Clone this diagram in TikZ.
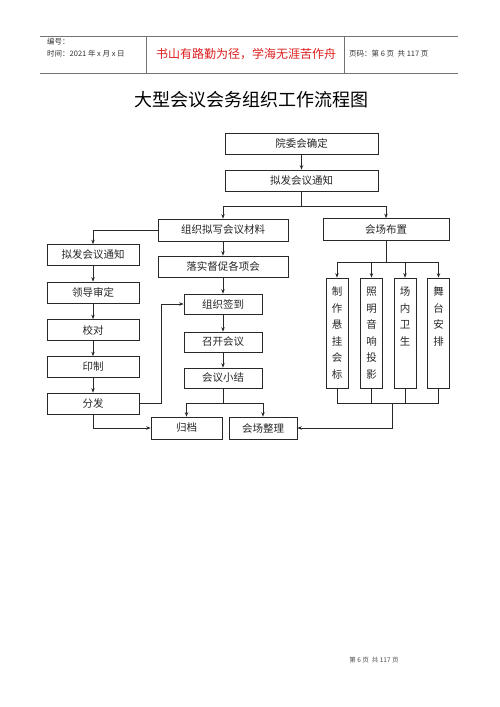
\documentclass[tikz,border=0pt]{standalone}
\usepackage{fontspec}
\setmainfont{Liberation Serif}
\newfontfamily\cjk{Noto Sans CJK SC}
\usetikzlibrary{arrows.meta}
\definecolor{lc}{RGB}{40,40,40}
\definecolor{redtxt}{RGB}{220,30,30}
\tikzset{
  box/.style={draw=lc, line width=0.7pt, rectangle, inner sep=0pt, font=\cjk\fontsize{10.5}{12}\selectfont, text=black!85},
  vbox/.style={box, minimum width=22pt, minimum height=110pt, align=center, font=\cjk\fontsize{10.5}{16.5}\selectfont},
  conn/.style={draw=lc, line width=0.7pt},
  arr/.style={conn, -{Stealth[length=4.5pt,width=3.5pt]}},
  hdr/.style={font=\cjk\fontsize{7.5}{9}\selectfont, inner sep=0pt, anchor=west, text=black!80}
}
\begin{document}
\begin{tikzpicture}[x=1pt,y=-1pt]
\useasboundingbox (0,0) rectangle (500,707);
% header
\draw[line width=0.6pt, draw=black!55] (40,36) -- (458,36);
\draw[line width=0.6pt, draw=black!55] (40,73) -- (458,73);
\draw[line width=0.6pt, draw=black!55] (146,36) -- (146,73);
\draw[line width=0.6pt, draw=black!55] (344,36) -- (344,73);
\node[hdr] (h1) at (47,42) {编号：};
\node[hdr] (h2) at (47,54) {时间：2021 年 x 月 x 日};
\node[font=\cjk\fontsize{12}{14}\selectfont, text=redtxt, inner sep=0pt] (h3) at (246,54) {书山有路勤为径，学海无涯苦作舟};
\node[hdr] (h4) at (349,54) {页码：第 6 页 \ 共 117 页};
% title
\node[font=\cjk\fontsize{18}{20}\selectfont, inner sep=0pt] (title) at (251,100) {大型会议会务组织工作流程图};
% main boxes
\node[box, minimum width=153pt, minimum height=21pt] (yw) at (301.5,143.5) {院委会确定};
\node[box, minimum width=153pt, minimum height=21pt] (nf1) at (301.5,180.5) {拟发会议通知};
\node[box, minimum width=130pt, minimum height=22pt] (zz) at (223,230) {组织拟写会议材料};
\node[box, minimum width=126pt, minimum height=22pt] (hc) at (386,229.5) {会场布置};
% left column
\node[box, minimum width=92pt, minimum height=21pt] (nf2) at (93,255) {拟发会议通知};
\node[box, minimum width=92pt, minimum height=21pt] (ld) at (93,292.5) {领导审定};
\node[box, minimum width=92pt, minimum height=21pt] (jd) at (93,330) {校对};
\node[box, minimum width=92pt, minimum height=21pt] (yz) at (93,367) {印制};
\node[box, minimum width=92pt, minimum height=21pt] (ff) at (93,403.5) {分发};
% middle column
\node[box, minimum width=130pt, minimum height=21pt] (ls) at (223,266.5) {落实督促各项会};
\node[box, minimum width=78pt, minimum height=20pt] (qd) at (223,304) {组织签到};
\node[box, minimum width=78pt, minimum height=20pt] (zk) at (223,342) {召开会议};
\node[box, minimum width=78pt, minimum height=20pt] (xj) at (223,378) {会议小结};
\node[box, minimum width=71pt, minimum height=22pt] (gd) at (186.5,428) {归档};
\node[box, minimum width=68pt, minimum height=22pt] (zl) at (263,428) {会场整理};
% right vertical boxes
\node[vbox] (v1) at (337,333) {制\\作\\悬\\挂\\会\\标};
\node[vbox] (v2) at (371.5,333) {照\\明\\音\\响\\投\\影};
\node[vbox] (v3) at (405,333) {场\\内\\卫\\生\\\phantom{字}\\\phantom{字}};
\node[vbox] (v4) at (438.5,333) {舞\\台\\安\\排\\\phantom{字}\\\phantom{字}};
% coordinates
\coordinate (j1) at (301.5,206);
\coordinate (j2) at (223,403);
\coordinate (j3) at (386,262);
\coordinate (j5) at (337,403);
\coordinate (j6) at (438.5,403);
\coordinate (j4) at (392,403);
% connectors
\draw[arr] (yw.south) -- (nf1.north);
\draw[conn] (nf1.south) -- (j1);
\draw[arr] (j1) -| (zz.north);
\draw[arr] (j1) -| (hc.north);
\draw[arr] (zz.west) -| (nf2.north);
\draw[arr] (nf2.south) -- (ld.north);
\draw[arr] (ld.south) -- (jd.north);
\draw[arr] (jd.south) -- (yz.north);
\draw[arr] (yz.south) -- (ff.north);
\draw[arr] (zz.south) -- (ls.north);
\draw[arr] (ls.south) -- (qd.north);
\draw[arr] (qd.south) -- (zk.north);
\draw[arr] (zk.south) -- (xj.north);
\draw[conn] (xj.south) -- (j2);
\draw[arr] (j2) -| (gd.north);
\draw[arr] (j2) -| (zl.north);
\draw[arr] (ff.east) -- ++(22,0) |- (qd.west);
\draw[arr] (ff.south) |- (gd.west);
\draw[conn] (hc.south) -- (j3);
\draw[arr] (j3) -| (v1.north);
\draw[arr] (j3) -| (v2.north);
\draw[arr] (j3) -| (v3.north);
\draw[arr] (j3) -| (v4.north);
\draw[conn] (v1.south) -- (j5) -- (j6) -- (v4.south);
\draw[conn] (v2.south) -- (v2.south |- j5);
\draw[conn] (v3.south) -- (v3.south |- j5);
\draw[arr] (j4) |- (zl.east);
% footer
\node[font=\cjk\fontsize{6.5}{7}\selectfont, inner sep=0pt, text=black!70] (ft) at (374,660) {第 6 页 \ 共 117 页};
\end{tikzpicture}
\end{document}
